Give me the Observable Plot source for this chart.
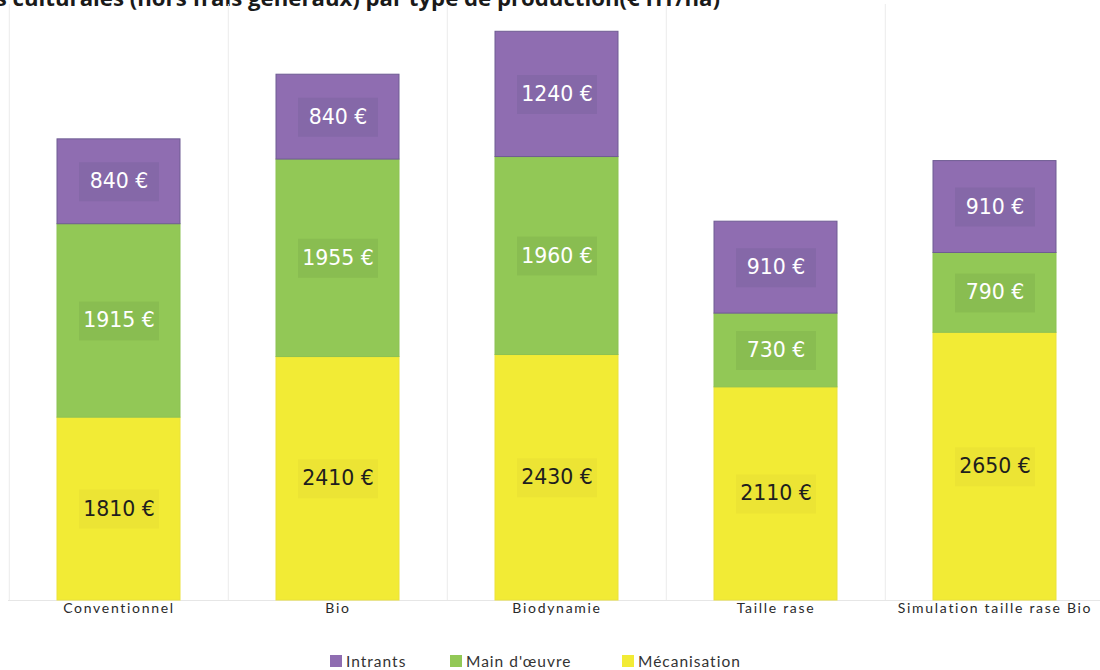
<!DOCTYPE html>
<html><head><meta charset="utf-8">
<script src="https://cdn.jsdelivr.net/npm/d3@7"></script>
<script src="https://cdn.jsdelivr.net/npm/@observablehq/plot@0.6"></script>
<style>
body{margin:0;background:#fff;}
#wrap{position:relative;width:1100px;height:670px;overflow:hidden;background:#fff;}
#title{position:absolute;right:380px;top:-18px;white-space:nowrap;font:bold 22.2px "Open Sans";color:#1a1a1a;}
#chart{position:absolute;left:0;top:0;}
.leg{position:absolute;top:653px;height:16px;font:15.5px Lato;color:#333;letter-spacing:1px;display:flex;align-items:center;white-space:nowrap;}
.leg .sw{width:12px;height:12px;display:inline-block;margin-right:4px;}
</style></head>
<body><div id="wrap">
<div id="title">Coûts des opérations culturales (hors frais généraux) par type de production(€ HT/ha)</div>
<div id="chart"></div>
<div id="legend"></div>
</div>
<script>
const categories = ["Conventionnel", "Bio", "Biodynamie", "Taille rase", "Simulation taille rase Bio"];
const seriesNames = ["Mécanisation", "Main d'œuvre", "Intrants"];
const mecanisation = [1810, 2410, 2430, 2110, 2650];
const mainOeuvre = [1915, 1955, 1960, 730, 790];
const intrants = [840, 840, 1240, 910, 910];
const legendOrder = ["Intrants", "Main d'œuvre", "Mécanisation"];

const barColors = {"Mécanisation": "#f2eb35", "Main d'œuvre": "#92c856", "Intrants": "#8f6db1"};
const boxColors = {"Mécanisation": "#ece434", "Main d'œuvre": "#89bd51", "Intrants": "#8568a8"};
const textColors = {"Mécanisation": "#1e1e1e", "Main d'œuvre": "#ffffff", "Intrants": "#ffffff"};
const strokeColors = {"Mécanisation": "#ebe23a", "Main d'œuvre": "#8cc253", "Intrants": "#6f5c93"};

const valuesBySeries = [mecanisation, mainOeuvre, intrants];
const rows = [];
categories.forEach((c, i) => {
  let base = 0;
  seriesNames.forEach((s, j) => {
    const v = valuesBySeries[j][i];
    rows.push({cat: c, series: s, value: v, y1: base, y2: base + v});
    base += v;
  });
});

const boxSymbol = {draw(ctx) { ctx.rect(-40, -19.5, 80, 39); }};
const step = (1105 - 8) / categories.length;

const chart = Plot.plot({
  width: 1100,
  height: 625,
  marginTop: 4,
  marginBottom: 25,
  marginLeft: 8,
  marginRight: 0,
  x: {domain: categories, range: [8, 1105], paddingInner: 0.44, paddingOuter: 0.22, axis: null},
  y: {domain: [0, 5900], axis: null},
  color: {type: "identity"},
  style: {background: "transparent"},
  marks: [
    Plot.tickX(categories, {x: d => d, dx: -step / 2, stroke: "#ececec", strokeWidth: 1}),
    Plot.ruleY([0], {stroke: "#e6e6e6"}),
    Plot.barY(rows, {x: "cat", y1: "y1", y2: "y2", fill: d => barColors[d.series], stroke: d => strokeColors[d.series], strokeWidth: 1}),
    Plot.dot(rows, {x: "cat", y: d => (d.y1 + d.y2) / 2, symbol: boxSymbol, fill: d => boxColors[d.series], stroke: "none"}),
    Plot.text(rows, {x: "cat", y: d => (d.y1 + d.y2) / 2, text: d => d.value + " €", fill: d => textColors[d.series], fontSize: 20.5, fontFamily: "DejaVu Sans"}),
    Plot.text(categories, {x: d => d, frameAnchor: "bottom", dy: 12, text: d => d, fill: "#2a2a2a", fontSize: 14, fontFamily: "Lato"})
  ]
});
chart.querySelectorAll("text").forEach(t => {
  if (categories.includes(t.textContent)) {
    t.setAttribute("letter-spacing", "1.7");
    t.style.letterSpacing = "1.7px";
  }
});
document.getElementById("chart").appendChild(chart);

const legendLeft = {"Intrants": 330, "Main d'œuvre": 450, "Mécanisation": 622};
const legend = document.getElementById("legend");
legendOrder.forEach(s => {
  const item = document.createElement("div");
  item.className = "leg";
  item.style.left = legendLeft[s] + "px";
  const sw = document.createElement("span");
  sw.className = "sw";
  sw.style.background = barColors[s];
  item.appendChild(sw);
  item.appendChild(document.createTextNode(s));
  legend.appendChild(item);
});
</script>
</body></html>
